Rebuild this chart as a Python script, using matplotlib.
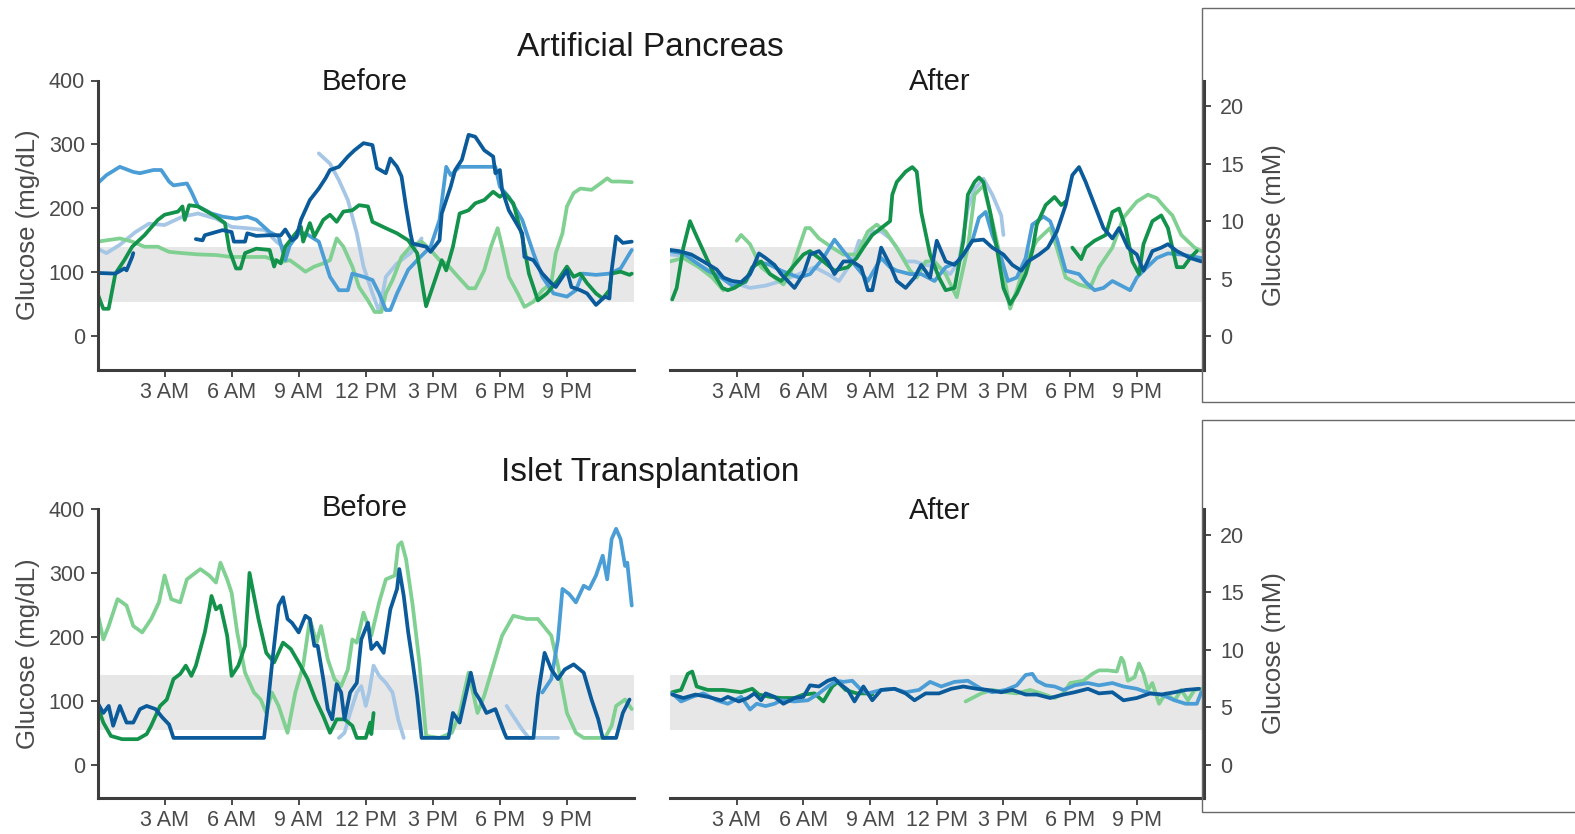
import numpy as np
import matplotlib
matplotlib.use("Agg")
from matplotlib import pyplot as plt
from matplotlib.patches import Rectangle

plt.rcParams['font.family'] = ['Liberation Sans', 'DejaVu Sans']

# hour of day -> glucose; None marks a gap in the sensor trace
# Artificial Pancreas, before (mg/dL)
ap_before_navy = [(0, 99), (0.8, 98), (1.2, 106), (1.3, 103), (1.55, 124), (1.6, 130), (None, None),
                  (4.4, 152), (4.7, 150), (4.8, 158), (5.1, 161), (5.6, 166), (6.0, 163), (6.1, 148), (6.6, 148),
                  (6.7, 161), (7.1, 157), (7.7, 158), (8.2, 158), (8.4, 167), (8.7, 150), (8.9, 155), (9.1, 182),
                  (9.5, 213), (9.9, 231), (10.2, 247), (10.4, 260), (10.8, 265), (11.2, 281), (11.5, 291),
                  (11.9, 302), (12.3, 299), (12.5, 263), (12.9, 255), (13.1, 278), (13.4, 265), (13.6, 250),
                  (13.8, 203), (14.0, 161), (14.1, 145), (14.7, 140), (14.9, 132), (15.3, 150), (15.4, 192),
                  (15.8, 234), (16.0, 260), (16.3, 276), (16.6, 315), (16.9, 312), (17.3, 291), (17.7, 281),
                  (17.8, 255), (18.0, 260), (18.1, 229), (18.4, 197), (19.0, 161), (19.1, 124), (19.5, 119),
                  (19.9, 98), (20.3, 83), (20.5, 77), (21.0, 103), (21.2, 77), (21.6, 72), (21.9, 67), (22.3, 49),
                  (22.7, 62), (22.9, 59), (23.0, 103), (23.2, 156), (23.5, 146), (23.9, 148)]
ap_before_blue = [(0, 239), (0.4, 252), (1.0, 265), (1.6, 257), (1.9, 255), (2.5, 260), (2.85, 260), (3.2, 242),
                  (3.4, 236), (4.0, 239), (4.2, 226), (4.5, 203), (5.1, 192), (5.6, 187), (6.2, 184), (6.7, 187),
                  (7.1, 182), (7.7, 163), (8.1, 156), (8.4, 119), (8.6, 142), (9.0, 161), (9.3, 161), (9.9, 148),
                  (10.4, 93), (10.8, 72), (11.2, 72), (11.4, 98), (11.9, 93), (12.3, 88), (12.6, 67), (12.9, 41),
                  (13.1, 41), (13.4, 67), (13.9, 104), (14.3, 119), (14.9, 140), (15.3, 182), (15.6, 265),
                  (15.8, 252), (16.2, 265), (16.7, 265), (17.3, 265), (17.8, 265), (18.0, 234), (18.4, 218),
                  (19.0, 182), (19.5, 130), (19.9, 93), (20.4, 67), (21.0, 62), (21.4, 72), (21.7, 98), (22.3, 96),
                  (22.9, 98), (23.4, 106), (23.9, 135)]
ap_before_pale = [(0, 137), (0.4, 130), (1.0, 143), (1.7, 163), (2.3, 176), (3.0, 174), (3.8, 187), (4.5, 192),
                  (5.3, 184), (6.0, 171), (6.7, 169), (7.5, 166), (8.0, 148), (8.5, 135), (None, None),
                  (9.9, 286), (10.4, 270), (10.8, 244), (11.2, 213), (11.6, 161), (11.9, 109), (12.3, 67),
                  (12.6, 38), (12.9, 93), (13.4, 114), (14.0, 130), (14.5, 153)]
ap_before_green = [(0, 67), (0.26, 43), (0.5, 43), (0.8, 98), (1.2, 119), (1.55, 140), (2.1, 158), (2.7, 182),
                   (3.0, 190), (3.6, 195), (3.8, 203), (3.9, 182), (4.1, 205), (4.5, 203), (4.9, 195), (5.3, 187),
                   (5.7, 177), (5.9, 135), (6.2, 106), (6.4, 106), (6.6, 130), (7.1, 137), (7.7, 135), (7.9, 109),
                   (8.0, 119), (8.2, 114), (8.4, 140), (8.8, 158), (9.1, 171), (9.2, 148), (9.5, 177), (9.7, 156),
                   (10.1, 182), (10.4, 190), (10.7, 179), (11.0, 195), (11.4, 197), (11.7, 205), (12.1, 203),
                   (12.3, 179), (12.9, 169), (13.4, 161), (13.9, 150), (14.3, 130), (14.6, 67), (14.7, 47),
                   (15.1, 88), (15.4, 119), (15.6, 103), (15.9, 140), (16.2, 192), (16.6, 197), (16.9, 208),
                   (17.3, 213), (17.7, 226), (18.0, 218), (18.2, 224), (18.6, 208), (19.0, 156), (19.3, 98),
                   (19.7, 56), (20.1, 67), (20.6, 88), (21.0, 109), (21.3, 93), (21.6, 98), (21.9, 83), (22.3, 67),
                   (22.6, 59), (22.9, 72), (23.0, 98), (23.4, 101), (23.8, 96), (23.9, 98)]
ap_before_mint = [(0, 148), (0.4, 150), (1.0, 153), (1.55, 148), (2.1, 140), (2.7, 140), (3.2, 132), (3.8, 130),
                  (4.5, 128), (5.3, 127), (6.0, 124), (6.7, 124), (7.5, 124), (8.2, 116), (8.6, 119), (9.0, 109),
                  (9.3, 101), (9.7, 109), (10.1, 114), (10.4, 119), (10.7, 153), (11.0, 140), (11.4, 109),
                  (11.7, 77), (12.1, 56), (12.4, 38), (12.7, 38), (12.9, 67), (13.2, 88), (13.6, 124), (14.0, 140),
                  (14.5, 148), (14.9, 135), (15.3, 119), (15.6, 114), (16.0, 98), (16.6, 75), (16.9, 75),
                  (17.3, 103), (17.6, 140), (17.9, 169), (18.1, 140), (18.4, 93), (18.8, 67), (19.1, 46),
                  (19.5, 54), (19.9, 72), (20.3, 83), (20.5, 130), (20.8, 161), (21.0, 203), (21.3, 224),
                  (21.6, 231), (22.1, 229), (22.5, 239), (22.8, 247), (23.0, 242), (23.4, 242), (23.9, 241)]

# Artificial Pancreas, after (mM)
ap_after_navy = [(0, 7.5), (0.4, 7.4), (0.96, 7.1), (1.5, 6.5), (2.1, 5.8), (2.4, 5.1), (2.8, 4.8), (3.2, 4.7),
                 (3.6, 5.4), (4.0, 7.2), (4.3, 6.8), (4.7, 6.2), (5.0, 5.4), (5.6, 4.2), (6.0, 5.4), (6.3, 7.1),
                 (6.7, 7.4), (7.1, 6.5), (7.4, 5.4), (7.8, 6.5), (8.2, 6.5), (8.6, 6.0), (8.9, 4.0), (9.1, 4.0),
                 (9.5, 7.7), (9.9, 6.2), (10.2, 4.8), (10.6, 4.2), (11.0, 5.1), (11.3, 6.2), (11.7, 5.1),
                 (12.0, 8.3), (12.4, 6.5), (12.8, 6.2), (13.2, 7.1), (13.6, 8.3), (14.1, 8.4), (14.5, 7.7),
                 (15.0, 7.1), (15.4, 6.2), (15.8, 5.7), (16.1, 6.5), (16.6, 7.1), (17.0, 7.7), (17.4, 9.1),
                 (17.8, 11.4), (18.1, 14.0), (18.4, 14.7), (18.7, 13.4), (19.1, 11.4), (19.5, 9.4), (19.9, 8.5),
                 (20.2, 9.4), (20.6, 7.7), (21.0, 7.1), (21.3, 5.7), (21.7, 7.4), (22.1, 7.7), (22.4, 8.0),
                 (22.8, 7.4), (23.4, 6.8), (23.9, 6.5)]
ap_after_blue = [(0, 7.4), (0.6, 7.2), (1.1, 6.5), (1.7, 5.7), (2.3, 5.1), (2.8, 4.4), (3.4, 4.7), (3.9, 6.5),
                 (4.5, 6.2), (5.0, 5.7), (5.8, 5.1), (6.3, 5.4), (6.9, 6.8), (7.4, 8.4), (7.8, 7.4), (8.4, 6.0),
                 (8.9, 4.8), (9.5, 6.8), (9.9, 6.0), (10.2, 5.7), (10.8, 5.4), (11.3, 5.4), (11.9, 4.8),
                 (12.4, 6.0), (13.0, 6.5), (13.6, 8.3), (13.9, 10.3), (14.2, 10.8), (14.5, 8.8), (14.9, 6.8),
                 (15.2, 4.8), (15.6, 5.1), (16.0, 6.8), (16.3, 9.7), (16.8, 10.4), (17.1, 10.0), (17.4, 8.5),
                 (17.8, 5.7), (18.4, 5.4), (18.7, 4.7), (19.1, 4.0), (19.5, 4.2), (19.9, 4.8), (20.2, 4.5),
                 (20.7, 4.0), (21.0, 5.1), (21.3, 5.7), (21.9, 6.8), (22.4, 7.2), (23.0, 7.1), (23.9, 6.8)]
ap_after_pale = [(0, 7.1), (0.6, 7.0), (1.3, 6.2), (2.1, 5.4), (2.8, 4.7), (3.6, 4.2), (4.3, 4.4), (5.0, 4.8),
                 (5.8, 5.4), (6.5, 6.0), (7.1, 5.4), (7.6, 4.8), (8.2, 6.5), (8.5, 8.3), (8.8, 8.0), (9.1, 9.1),
                 (9.5, 9.1), (9.9, 8.5), (10.2, 7.7), (10.6, 6.5), (11.0, 6.5), (11.5, 6.2), (12.1, 6.0),
                 (12.6, 5.4), (13.0, 6.5), (13.4, 11.1), (13.7, 12.8), (14.1, 13.7), (14.5, 12.3), (14.9, 10.5),
                 (15.0, 8.8)]
ap_after_green = [(0.1, 3.2), (0.3, 4.2), (0.6, 7.7), (0.9, 10.0), (1.1, 9.1), (1.5, 7.4), (1.9, 5.7), (2.35, 4.2),
                  (2.6, 4.0), (2.9, 4.2), (3.4, 4.8), (3.7, 6.0), (4.1, 6.5), (4.5, 5.4), (5.0, 4.8), (5.6, 6.2),
                  (6.0, 7.1), (6.3, 7.4), (6.9, 6.5), (7.4, 5.7), (8.0, 6.0), (8.4, 6.8), (8.7, 7.7), (9.1, 8.8),
                  (9.5, 9.4), (9.9, 10.0), (10.0, 12.3), (10.2, 13.4), (10.6, 14.3), (10.9, 14.7), (11.1, 14.3),
                  (11.3, 10.8), (11.7, 7.1), (12.1, 5.1), (12.4, 4.0), (12.8, 4.2), (13.2, 8.3), (13.4, 12.3),
                  (13.7, 13.4), (13.9, 13.8), (14.1, 13.4), (14.4, 10.8), (14.7, 7.7), (15.0, 4.2), (15.3, 2.8),
                  (15.6, 3.7), (16.0, 5.4), (16.3, 7.4), (16.5, 9.7), (16.9, 11.4), (17.3, 12.1), (17.6, 11.4),
                  (17.8, 11.7), (None, None), (18.1, 7.7), (18.5, 6.7), (18.7, 7.7), (19.1, 8.3), (19.6, 8.8),
                  (19.9, 10.8), (20.2, 11.1), (20.5, 9.4), (20.8, 6.5), (21.1, 5.4), (21.3, 8.0), (21.7, 10.0),
                  (22.1, 10.5), (22.4, 9.4), (22.8, 6.0), (23.1, 6.0), (23.4, 6.8), (23.7, 7.4)]
ap_after_mint = [(0, 6.5), (0.6, 6.8), (1.3, 6.0), (1.9, 5.1), (2.4, 4.0), (None, None),
                 (3.0, 8.3), (3.2, 8.8), (3.6, 8.0), (4.1, 6.0), (4.7, 5.1), (5.1, 4.5), (5.4, 5.4), (5.8, 7.7),
                 (6.1, 9.4), (6.3, 9.4), (6.7, 8.5), (7.3, 7.7), (7.8, 7.1), (8.4, 7.1), (8.9, 9.1), (9.3, 9.7),
                 (9.7, 9.1), (10.2, 7.7), (10.8, 5.7), (11.1, 5.1), (11.5, 6.5), (11.9, 6.5), (12.4, 5.4),
                 (12.9, 3.4), (13.4, 7.7), (13.7, 12.3), (14.1, 13.1), (14.5, 10.0), (14.9, 6.5), (15.3, 2.4),
                 (15.6, 4.0), (16.0, 6.5), (16.5, 8.3), (17.1, 9.4), (17.4, 7.7), (17.8, 5.1), (18.4, 4.5),
                 (18.9, 4.2), (19.3, 6.0), (19.9, 7.7), (20.4, 10.3), (21.0, 11.7), (21.5, 12.3), (21.9, 12.0),
                 (22.3, 11.1), (22.6, 10.5), (23.0, 8.8), (23.6, 7.7), (23.9, 7.4)]

# Islet Transplantation, before (mg/dL)
it_before_navy = [(0, 97), (0.26, 81), (0.5, 92), (0.7, 61), (1.0, 92), (1.3, 66), (1.6, 66), (1.9, 87), (2.2, 92),
                  (2.6, 87), (2.9, 74), (3.2, 63), (3.4, 42), (4.0, 42), (7.45, 42), (7.6, 87), (7.8, 155),
                  (8.1, 249), (8.3, 262), (8.5, 228), (8.7, 222), (9.0, 207), (9.3, 233), (9.5, 228), (9.7, 186),
                  (9.85, 186), (10.1, 134), (10.3, 87), (10.5, 71), (10.7, 126), (10.9, 113), (11.05, 71),
                  (11.3, 113), (11.6, 128), (11.8, 196), (12.1, 222), (12.25, 181), (12.5, 191), (12.8, 175),
                  (13.1, 243), (13.4, 275), (13.5, 306), (13.7, 264), (13.9, 207), (14.1, 160), (14.3, 108),
                  (14.5, 42), (15.7, 42), (15.9, 81), (16.2, 66), (16.5, 113), (16.7, 144), (16.9, 113),
                  (17.1, 102), (17.4, 81), (17.8, 87), (18.2, 50), (18.3, 42), (19.5, 42), (19.7, 108), (20.0, 175),
                  (20.3, 149), (20.6, 134), (20.9, 149), (21.3, 157), (21.75, 144), (22.1, 102), (22.4, 71),
                  (22.6, 42), (23.2, 42), (23.5, 81), (23.8, 102)]
it_before_blue = [(19.9, 113), (20.3, 134), (20.6, 196), (20.8, 275), (21.1, 267), (21.4, 254), (21.75, 280),
                  (22.0, 275), (22.3, 296), (22.6, 327), (22.8, 290), (23.0, 353), (23.2, 369), (23.4, 353),
                  (23.6, 311), (23.7, 316), (23.9, 249)]
it_before_pale = [(10.8, 42), (11.05, 50), (11.3, 81), (11.6, 113), (11.8, 123), (12.0, 92), (12.15, 113),
                  (12.35, 155), (12.6, 139), (12.9, 128), (13.2, 113), (13.45, 71), (13.7, 42), (None, None),
                  (18.3, 92), (18.6, 76), (19.0, 55), (19.3, 42), (20.6, 42)]
it_before_green = [(0, 92), (0.26, 66), (0.6, 45), (1.1, 40), (1.8, 40), (2.2, 48), (2.4, 61), (2.8, 92), (3.1, 102),
                   (3.4, 134), (3.7, 142), (3.95, 155), (4.2, 139), (4.4, 155), (4.8, 207), (5.0, 243), (5.1, 264),
                   (5.3, 243), (5.5, 249), (5.8, 202), (6.0, 139), (6.3, 155), (6.6, 186), (6.8, 300), (7.0, 264),
                   (7.2, 228), (7.55, 175), (7.9, 160), (8.3, 191), (8.65, 181), (9.0, 160), (9.4, 134), (9.75, 102),
                   (10.1, 76), (10.4, 50), (10.7, 71), (11.05, 71), (11.4, 61), (11.6, 42), (12.0, 42), (12.2, 66),
                   (12.25, 48), (12.35, 81)]
it_before_mint = [(0, 238), (0.26, 196), (0.5, 217), (0.9, 259), (1.3, 249), (1.6, 217), (2.0, 207), (2.4, 228),
                  (2.75, 254), (3.0, 296), (3.3, 259), (3.7, 254), (4.0, 290), (4.6, 306), (5.0, 296), (5.3, 285),
                  (5.5, 316), (5.8, 290), (6.0, 269), (6.25, 207), (6.6, 144), (7.0, 113), (7.3, 102), (7.55, 81),
                  (7.8, 113), (8.1, 92), (8.5, 50), (8.85, 113), (9.2, 155), (9.5, 228), (9.8, 191), (10.0, 217),
                  (10.3, 165), (10.6, 134), (10.9, 123), (11.2, 149), (11.4, 196), (11.6, 191), (11.9, 238),
                  (12.25, 202), (12.6, 254), (12.9, 290), (13.3, 296), (13.45, 343), (13.6, 348), (13.8, 322),
                  (14.1, 249), (14.4, 160), (14.7, 45), (15.3, 42), (15.85, 50), (16.2, 81), (16.6, 144), (17.0, 81),
                  (17.3, 108), (17.7, 155), (18.1, 202), (18.6, 233), (19.2, 228), (19.7, 228), (20.3, 202),
                  (20.6, 155), (21.0, 81), (21.4, 50), (21.75, 42), (22.7, 42), (23.0, 61), (23.2, 92), (23.6, 102),
                  (23.9, 87)]

# Islet Transplantation, after (mM)
it_after_navy = [(0.1, 6.1), (0.6, 5.8), (1.15, 6.1), (1.7, 5.9), (2.3, 5.6), (2.6, 5.9), (3.1, 5.5), (3.5, 5.8),
                 (3.8, 6.2), (4.1, 5.6), (4.3, 6.2), (4.7, 5.9), (5.1, 5.3), (5.6, 5.8), (6.0, 5.9), (6.3, 6.9),
                 (6.7, 6.8), (7.1, 7.3), (7.4, 7.5), (7.6, 7.1), (8.0, 6.5), (8.3, 5.5), (8.7, 6.8), (9.1, 5.6),
                 (9.5, 6.5), (10.1, 6.6), (10.6, 6.2), (11.0, 5.6), (11.5, 6.2), (12.1, 6.2), (12.65, 6.6),
                 (13.2, 6.8), (13.8, 6.6), (14.3, 6.5), (14.9, 6.3), (15.4, 6.5), (16.0, 6.1), (16.5, 6.1),
                 (17.1, 5.8), (17.7, 6.1), (18.2, 6.3), (18.8, 6.6), (19.3, 6.2), (19.9, 6.3), (20.4, 5.6),
                 (21.0, 5.8), (21.6, 6.2), (22.1, 6.1), (22.7, 6.3), (23.2, 6.5), (23.8, 6.6)]
it_after_blue = [(0.1, 6.2), (0.5, 5.5), (1.0, 5.9), (1.5, 6.2), (2.1, 5.6), (2.6, 5.3), (3.2, 5.9), (3.6, 4.8),
                 (3.9, 5.3), (4.3, 5.1), (4.7, 5.3), (5.0, 5.6), (5.6, 5.5), (6.2, 5.6), (6.7, 6.2), (7.1, 6.8),
                 (7.5, 7.3), (7.8, 7.2), (8.2, 7.3), (8.6, 6.5), (8.9, 6.2), (9.5, 6.5), (10.1, 6.6), (10.6, 6.3),
                 (11.2, 6.5), (11.7, 7.2), (12.2, 6.8), (12.8, 7.2), (13.4, 7.3), (14.0, 6.6), (14.5, 6.3),
                 (15.1, 6.5), (15.6, 6.9), (16.0, 7.8), (16.3, 7.9), (16.5, 7.3), (16.9, 6.9), (17.3, 6.8),
                 (17.7, 6.5), (18.2, 6.9), (18.8, 7.1), (19.3, 6.9), (19.9, 7.1), (20.4, 6.8), (21.0, 6.6),
                 (21.6, 6.2), (22.1, 6.1), (22.7, 5.6), (23.2, 5.3), (23.7, 5.3), (23.9, 6.3)]
it_after_green = [(0.1, 6.3), (0.5, 6.5), (0.8, 7.9), (1.0, 8.1), (1.2, 6.8), (1.7, 6.5), (2.4, 6.5), (3.2, 6.3),
                  (3.7, 6.6), (4.0, 6.1), (4.5, 5.9), (5.0, 5.8), (5.6, 5.8), (6.0, 6.1), (6.5, 6.2), (6.9, 5.5),
                  (7.3, 6.8), (7.55, 7.2), (7.9, 6.5), (8.4, 6.2), (8.85, 6.2), (9.1, 6.1)]
it_after_mint = [(13.3, 5.5), (13.6, 5.8), (14.0, 6.2), (14.5, 6.5), (15.1, 6.3), (15.6, 6.2), (16.2, 6.5),
                 (16.7, 6.2), (17.3, 5.8), (17.7, 6.2), (18.0, 7.1), (18.6, 7.3), (19.0, 7.9), (19.3, 8.2),
                 (19.7, 8.2), (20.1, 8.1), (20.3, 9.3), (20.4, 9.0), (20.6, 7.3), (20.9, 7.6), (21.1, 8.8),
                 (21.3, 7.9), (21.5, 6.5), (21.7, 7.1), (22.0, 5.3), (22.3, 6.2), (22.7, 5.6), (23.0, 6.5),
                 (23.3, 5.6), (23.6, 6.5), (23.9, 6.6)]

hour_ticks = [3, 6, 9, 12, 15, 18, 21]
hour_labels = ["3 AM", "6 AM", "9 AM", "12 PM", "3 PM", "6 PM", "9 PM"]
mgdl_ticks = [0, 100, 200, 300, 400]
mm_ticks = [0, 5, 10, 15, 20]
target_range = (54, 140)  # mg/dL
MGDL_PER_MM = 18.0

NAVY = "#0b5b9b"
BLUE = "#4b9dd5"
PALE = "#a6c6e6"
GREEN = "#13924b"
MINT = "#80d092"
SPINE = "#3d3d3d"
TXT = "#4a4a4a"

W, H = 1575, 834
YLIM = (-52, 400)
XLIM = (0, 24)


def rect(left, right, top, bottom):
    return [left / W, 1 - bottom / H, (right - left) / W, (bottom - top) / H]


def split(trace):
    x = [np.nan if p[0] is None else p[0] for p in trace]
    y = [np.nan if p[1] is None else p[1] for p in trace]
    return x, y


def draw_traces(ax, traces):
    for trace, color in traces:
        x, y = split(trace)
        ax.plot(x, y, color=color, lw=2.7, solid_joinstyle="round", solid_capstyle="round")


def style_common(ax):
    ax.set_xlim(*XLIM)
    ax.set_ylim(*YLIM)
    ax.set_xticks(hour_ticks)
    ax.set_xticklabels(hour_labels)
    ax.spines["top"].set_visible(False)
    ax.spines["right"].set_visible(False)
    ax.spines["bottom"].set_linewidth(2.2)
    ax.spines["bottom"].set_color(SPINE)
    ax.tick_params(axis="x", length=5, width=1.3, color=SPINE, labelsize=15.5, labelcolor=TXT, pad=4)
    ax.axhspan(*target_range, color="#e7e7e7", lw=0, zorder=0)
    ax.patch.set_alpha(0)


def before_panel(top, bottom, traces):
    ax = fig.add_axes(rect(97.5, 634, top, bottom))
    style_common(ax)
    ax.spines["left"].set_linewidth(2.2)
    ax.spines["left"].set_color(SPINE)
    ax.set_yticks(mgdl_ticks)
    ax.tick_params(axis="y", length=5, width=1.3, color=SPINE, labelsize=15.5, labelcolor=TXT, pad=4)
    ax.set_ylabel("Glucose (mg/dL)", fontsize=18.5, color=TXT, labelpad=6)
    draw_traces(ax, traces)
    return ax


def after_panel(top, bottom, traces):
    ax = fig.add_axes(rect(670, 1203.5, top, bottom))
    style_common(ax)
    ax.spines["left"].set_visible(False)
    ax.set_yticks([])
    ax2 = ax.twinx()
    ax2.set_ylim(YLIM[0] / MGDL_PER_MM, YLIM[1] / MGDL_PER_MM)
    for s in ["top", "left", "bottom"]:
        ax2.spines[s].set_visible(False)
    ax2.spines["right"].set_linewidth(2.2)
    ax2.spines["right"].set_color(SPINE)
    ax2.set_yticks(mm_ticks)
    ax2.tick_params(axis="y", length=5, width=1.3, color=SPINE, labelsize=15.5, labelcolor=TXT, pad=7)
    ax2.set_ylabel("Glucose (mM)", fontsize=18.5, color=TXT, labelpad=13)
    draw_traces(ax2, traces)
    return ax, ax2


fig = plt.figure(figsize=(W / 100, H / 100), dpi=100)

# empty framed boxes on the right
for top, bottom in [(8, 402), (420, 812)]:
    fig.patches.append(Rectangle((1202 / W, 1 - bottom / H), 400 / W, (bottom - top) / H,
                                 transform=fig.transFigure, fill=False, ec="#6a6a6a", lw=1.0))

before_panel(80.5, 369.5, [(ap_before_pale, PALE), (ap_before_mint, MINT), (ap_before_blue, BLUE),
                           (ap_before_green, GREEN), (ap_before_navy, NAVY)])
after_panel(80.5, 369.5, [(ap_after_pale, PALE), (ap_after_mint, MINT), (ap_after_blue, BLUE),
                          (ap_after_green, GREEN), (ap_after_navy, NAVY)])
before_panel(509, 798, [(it_before_pale, PALE), (it_before_mint, MINT), (it_before_blue, BLUE),
                        (it_before_green, GREEN), (it_before_navy, NAVY)])
after_panel(509, 798, [(it_after_mint, MINT), (it_after_green, GREEN), (it_after_blue, BLUE),
                       (it_after_navy, NAVY)])


def label(x, y, s, size):
    fig.text(x / W, 1 - y / H, s, ha="center", va="center", fontsize=size, color="#1a1a1a")


label(650, 47, "Artificial Pancreas", 24)
label(365, 82, "Before", 21)
label(940, 82, "After", 21)
label(650, 473, "Islet Transplantation", 24)
label(365, 508, "Before", 21)
label(940, 511, "After", 21)

fig.savefig("out.png", dpi=100)
